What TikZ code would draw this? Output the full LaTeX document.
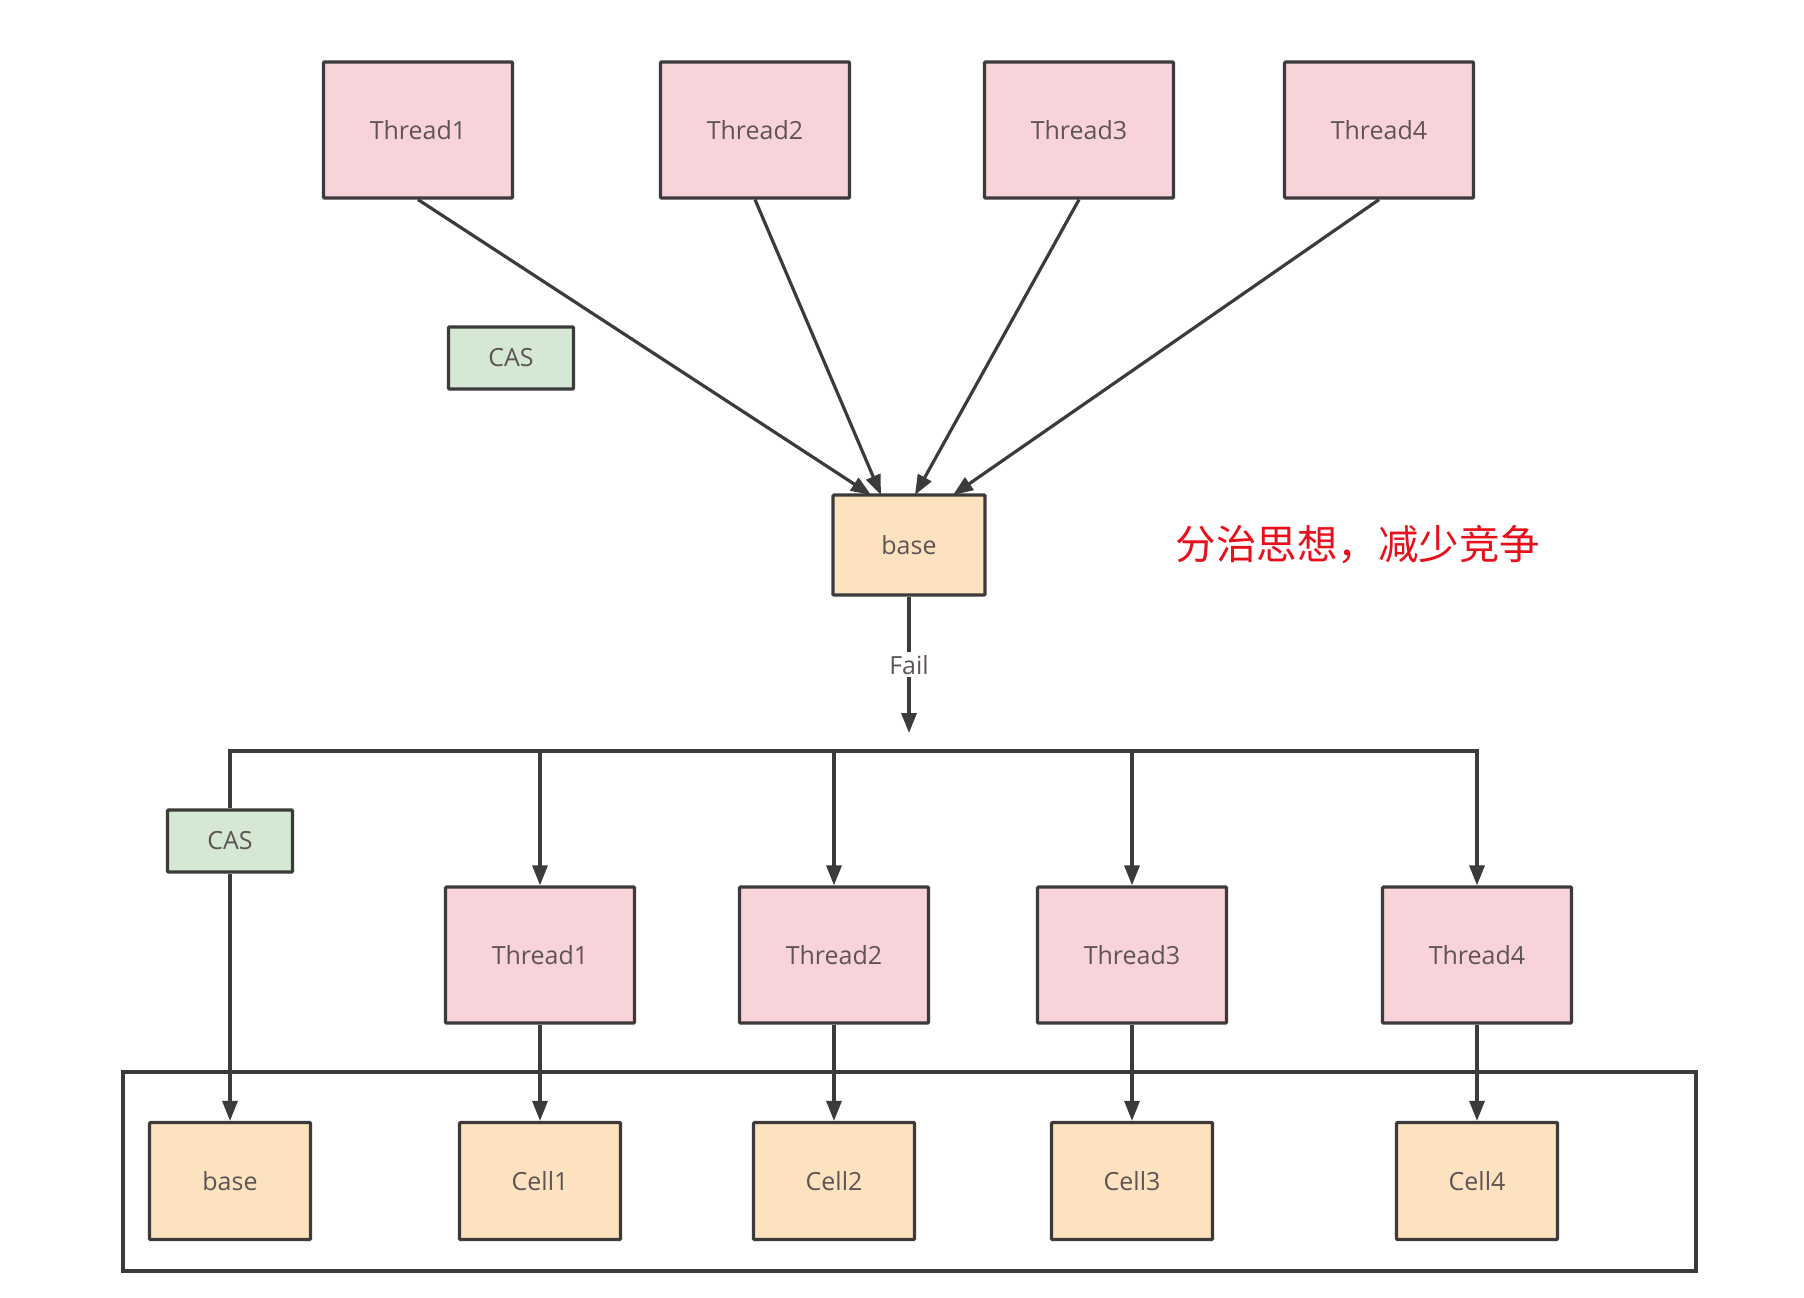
\documentclass[tikz,border=0pt]{standalone}
\usepackage{fontspec}
\setmainfont{Open Sans}
\newfontfamily\cjk{Noto Sans CJK SC}
\usetikzlibrary{arrows.meta}
\definecolor{pinkfill}{HTML}{F9D3DA}
\definecolor{greenfill}{HTML}{D5E8D4}
\definecolor{orangefill}{HTML}{FCE2BE}
\definecolor{edge}{HTML}{3C3A3A}
\definecolor{txt}{HTML}{5E5456}
\definecolor{redtxt}{HTML}{E8101A}
\tikzset{
  box/.style={draw=edge, line width=3.2pt, rounded corners=1pt, text=txt, font=\fontsize{25}{28}\selectfont, inner sep=0pt},
  thr/.style={box, fill=pinkfill, minimum width=189pt, minimum height=136pt},
  cas/.style={box, fill=greenfill, minimum width=125pt, minimum height=62pt},
  basebox/.style={box, fill=orangefill, minimum width=152pt, minimum height=100pt},
  cell/.style={box, fill=orangefill, minimum width=161pt, minimum height=117pt},
  conn/.style={draw=edge, line width=3.2pt},
  arr/.style={conn, -{Triangle[length=20pt,width=15pt]}},
}
\begin{document}
\begin{tikzpicture}[x=1pt,y=-1pt]
\useasboundingbox (0,0) rectangle (1804,1298);
% container
\node[draw=edge, line width=3.2pt, minimum width=1573pt, minimum height=199pt, inner sep=0pt] (cont) at (909.5,1171.5) {};
% top
\node[thr] (t1) at (418,130) {Thread1};
\node[thr] (t2) at (755,130) {Thread2};
\node[thr] (t3) at (1079,130) {Thread3};
\node[thr] (t4) at (1379,130) {Thread4};
\node[cas] (cas1) at (511,358) {CAS};
\node[basebox] (b1) at (909,545) {base};
\node[text=redtxt, font=\cjk\fontsize{40.5}{46}\selectfont, anchor=west] (msg) at (1172,545) {分治思想，减少竞争};
\coordinate (e1) at (871,495);
\coordinate (e2) at (881,495);
\coordinate (e3) at (915,495);
\coordinate (e4) at (953,495);
\draw[arr] (t1.south) -- (e1);
\draw[arr] (t2.south) -- (e2);
\draw[arr] (t3.south) -- (e3);
\draw[arr] (t4.south) -- (e4);
% fail
\coordinate (f) at (909,733);
\draw[arr] (b1.south) -- node[fill=white, text=txt, font=\fontsize{25}{28}\selectfont, inner sep=3pt] (fail) {Fail} (f);
% bottom
\node[cas] (cas2) at (230,841) {CAS};
\node[thr] (u1) at (540,955) {Thread1};
\node[thr] (u2) at (834,955) {Thread2};
\node[thr] (u3) at (1132,955) {Thread3};
\node[thr] (u4) at (1477,955) {Thread4};
\node[cell] (c0) at (230,1181) {base};
\node[cell] (c1) at (540,1181) {Cell1};
\node[cell] (c2) at (834,1181) {Cell2};
\node[cell] (c3) at (1132,1181) {Cell3};
\node[cell] (c4) at (1477,1181) {Cell4};
\coordinate (hl) at (230,751);
\coordinate (hr) at (1477,751);
\draw[arr] (cas2.north) -- (hl) -- (hr) -- (u4.north);
\draw[arr] (u1.north |- hl) -- (u1.north);
\draw[arr] (u2.north |- hl) -- (u2.north);
\draw[arr] (u3.north |- hl) -- (u3.north);
\draw[arr] (cas2.south) -- (c0.north);
\draw[arr] (u1.south) -- (c1.north);
\draw[arr] (u2.south) -- (c2.north);
\draw[arr] (u3.south) -- (c3.north);
\draw[arr] (u4.south) -- (c4.north);
\end{tikzpicture}
\end{document}
